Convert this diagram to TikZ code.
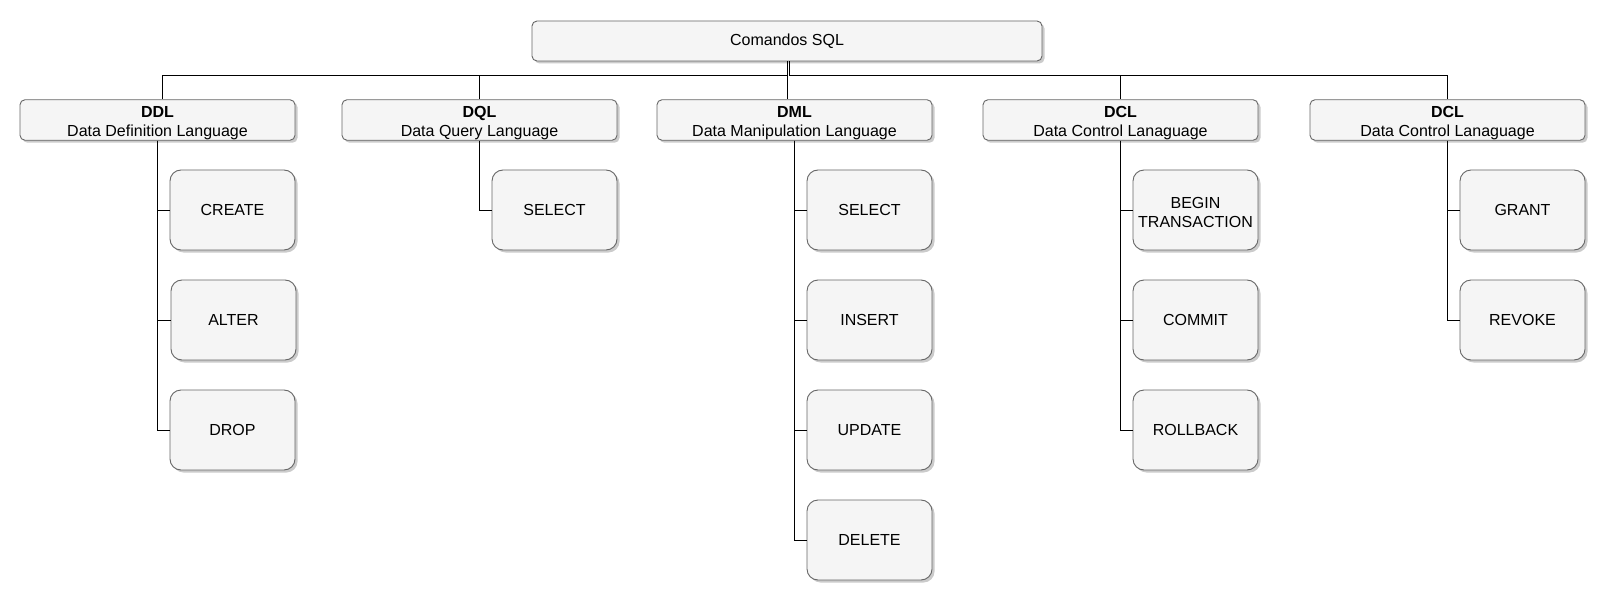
\documentclass[tikz,border=0pt]{standalone}
\usepackage{fontspec}
\setmainfont{Liberation Sans}
\usetikzlibrary{shadows}
\definecolor{boxfill}{HTML}{F5F5F5}
\definecolor{boxline}{HTML}{666666}
\begin{document}
\begin{tikzpicture}[x=1pt,y=-1pt,
  base/.style={draw=boxline, fill=boxfill, line width=0.9pt, align=center, inner sep=0pt,
    font=\fontsize{16}{19}\selectfont,
    drop shadow={shadow xshift=2.5pt, shadow yshift=-2.5pt, fill=black!45, opacity=0.45}},
  rootbox/.style={base, rounded corners=5pt, minimum width=510pt, minimum height=40pt},
  parentbox/.style={base, rounded corners=5pt, minimum width=275pt, minimum height=40pt,
    text height=37pt, text depth=3.5pt},
  childbox/.style={base, rounded corners=11pt, minimum width=125pt, minimum height=80pt},
  twoline/.style={text height=34.5pt, text depth=0pt},
  conn/.style={draw=black, line width=0.9pt}]
\useasboundingbox (0,0) rectangle (1608,604);
\fill[white] (0,0) rectangle (1608,604);

\node[rootbox] (root) at (787,41) {Comandos SQL};

\node[parentbox] (ddl)  at (157.5,120) {\textbf{DDL}\\Data Definition Language};
\node[parentbox] (dql)  at (479.5,120) {\textbf{DQL}\\Data Query Language};
\node[parentbox] (dml)  at (794.5,120) {\textbf{DML}\\Data Manipulation Language};
\node[parentbox] (dcla) at (1120.5,120) {\textbf{DCL}\\Data Control Lanaguage};
\node[parentbox] (dclb) at (1447.5,120) {\textbf{DCL}\\Data Control Lanaguage};

\coordinate (bus) at (787,75);

% children
\node[childbox] (create) at (232.5,210) {CREATE};
\node[childbox] (alter)  at (233.5,320) {ALTER};
\node[childbox] (drop)   at (232.5,430) {DROP};

\node[childbox] (select1) at (554.5,210) {SELECT};

\node[childbox] (select2) at (869.5,210) {SELECT};
\node[childbox] (insert)  at (869.5,320) {INSERT};
\node[childbox] (update)  at (869.5,430) {UPDATE};
\node[childbox] (delete)  at (869.5,540) {DELETE};

\node[childbox, twoline] (begin) at (1195.5,210) {BEGIN\\TRANSACTION};
\node[childbox] (commit)   at (1195.5,320) {COMMIT};
\node[childbox] (rollback) at (1195.5,430) {ROLLBACK};

\node[childbox] (grant)  at (1522.5,210) {GRANT};
\node[childbox] (revoke) at (1522.5,320) {REVOKE};

% root to parents
\draw[conn] (root.south) -- (root.south |- bus) -| ([xshift=4.5pt]ddl.north);
\draw[conn] (root.south) -- (root.south |- bus) -| (dql.north);
\draw[conn] (root.south) -- (root.south |- dml.north);
\draw[conn] ([xshift=2pt]root.south) -- ([xshift=2pt]root.south |- bus) -| (dcla.north);
\draw[conn] ([xshift=2pt]root.south) -- ([xshift=2pt]root.south |- bus) -| (dclb.north);

% parents to children
\draw[conn] (ddl.south) |- (create.west);
\draw[conn] (ddl.south) |- (alter.west);
\draw[conn] (ddl.south) |- (drop.west);
\draw[conn] (dql.south) |- (select1.west);
\draw[conn] (dml.south) |- (select2.west);
\draw[conn] (dml.south) |- (insert.west);
\draw[conn] (dml.south) |- (update.west);
\draw[conn] (dml.south) |- (delete.west);
\draw[conn] (dcla.south) |- (begin.west);
\draw[conn] (dcla.south) |- (commit.west);
\draw[conn] (dcla.south) |- (rollback.west);
\draw[conn] (dclb.south) |- (grant.west);
\draw[conn] (dclb.south) |- (revoke.west);
\end{tikzpicture}
\end{document}
